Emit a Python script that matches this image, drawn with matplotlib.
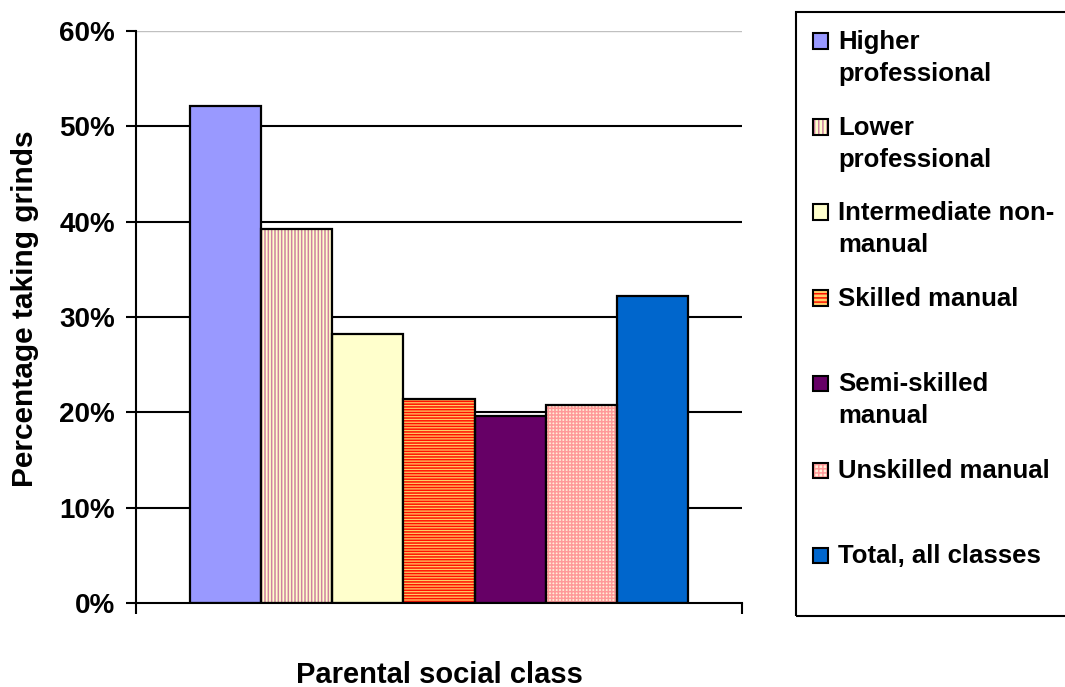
import matplotlib
matplotlib.use("Agg")
import matplotlib.pyplot as plt
from matplotlib.patches import Rectangle

categories = ["Higher\nprofessional", "Lower\nprofessional", "Intermediate non-\nmanual",
              "Skilled manual", "Semi-skilled\nmanual", "Unskilled manual", "Total, all classes"]
values = [52.1, 39.2, 28.2, 21.4, 19.6, 20.8, 32.2]
y_ticks = [0, 10, 20, 30, 40, 50, 60]
y_tick_labels = ["0%", "10%", "20%", "30%", "40%", "50%", "60%"]

face_colors = ["#9999FF", "#FFFFCC", "#FFFFCC", "#FFCC66", "#660066", "#FFF0D8", "#0066CC"]
hatches = [None, "|||||", None, "------", None, "+++++", None]
hatch_colors = [None, "#D080A0", None, "#FF1100", None, "#FF9999", None]

FONT = "Liberation Sans"
plt.rcParams["font.family"] = [FONT, "DejaVu Sans"]
plt.rcParams["font.weight"] = "bold"
plt.rcParams["hatch.linewidth"] = 1.1

W, H = 1065, 687
fig = plt.figure(figsize=(10.65, 6.87), dpi=100)
ax = fig.add_axes([136/W, 1-603/H, (742-136)/W, (603-31)/H])

n = len(values)
xs = list(range(n))
for i, (x, v) in enumerate(zip(xs, values)):
    if hatches[i]:
        ax.bar(x, v, width=1.0, color=face_colors[i], hatch=hatches[i],
               edgecolor=hatch_colors[i], linewidth=0, zorder=3)
        ax.bar(x, v, width=1.0, fill=False, edgecolor="black", linewidth=1.6, zorder=4)
    else:
        ax.bar(x, v, width=1.0, color=face_colors[i], edgecolor="black", linewidth=1.6, zorder=3)

ax.set_xlim(-0.5-0.76, n-0.5+0.76)
ax.set_ylim(0, 60)
ax.set_yticks(y_ticks)
ax.set_yticklabels(y_tick_labels, fontsize=20, fontweight="bold")
for t in y_ticks[1:-1]:
    ax.axhline(t, color="black", linewidth=1.5, zorder=1)
ax.axhline(60, color="#C0C0C0", linewidth=1.0, zorder=1)
ax.set_xticks([ax.get_xlim()[0], ax.get_xlim()[1]])
ax.set_xticklabels(["", ""])
ax.tick_params(axis="y", direction="out", length=7, width=1.5, pad=8)
ax.tick_params(axis="x", direction="out", length=8, width=1.5)
for s in ["top", "right"]:
    ax.spines[s].set_visible(False)
for s in ["left", "bottom"]:
    ax.spines[s].set_linewidth(1.5)
    ax.spines[s].set_zorder(5)

fig.text(25/W, 1-309/H, "Percentage taking grinds", fontsize=21.5, fontweight="bold",
         rotation=90, ha="center", va="center")
fig.text(439/W, 1-675/H, "Parental social class", fontsize=21, fontweight="bold",
         ha="center", va="center")

# Legend box
fig.patches.append(Rectangle((796/W, 1-616/H), (1080-796)/W, (616-12)/H, transform=fig.transFigure,
                             fill=False, edgecolor="black", linewidth=1.5, clip_on=False))
entry_y = [41, 127, 212, 298, 383, 470, 555]
line_gap = 32
for i, lab in enumerate(categories):
    yc = entry_y[i]
    sq = 15
    x0 = 813
    if hatches[i]:
        fig.patches.append(Rectangle((x0/W, 1-(yc+sq/2)/H), sq/W, sq/H, transform=fig.transFigure,
                                     facecolor=face_colors[i], hatch=hatches[i][:4],
                                     edgecolor=hatch_colors[i], linewidth=0))
        fig.patches.append(Rectangle((x0/W, 1-(yc+sq/2)/H), sq/W, sq/H, transform=fig.transFigure,
                                     fill=False, edgecolor="black", linewidth=1.5))
    else:
        fig.patches.append(Rectangle((x0/W, 1-(yc+sq/2)/H), sq/W, sq/H, transform=fig.transFigure,
                                     facecolor=face_colors[i], edgecolor="black", linewidth=1.5))
    for k, line in enumerate(lab.split("\n")):
        fig.text(838/W, 1-(yc+8+k*line_gap)/H, line, fontsize=18.5, fontweight="bold",
                 ha="left", va="baseline")

fig.savefig("out.png", dpi=100)
